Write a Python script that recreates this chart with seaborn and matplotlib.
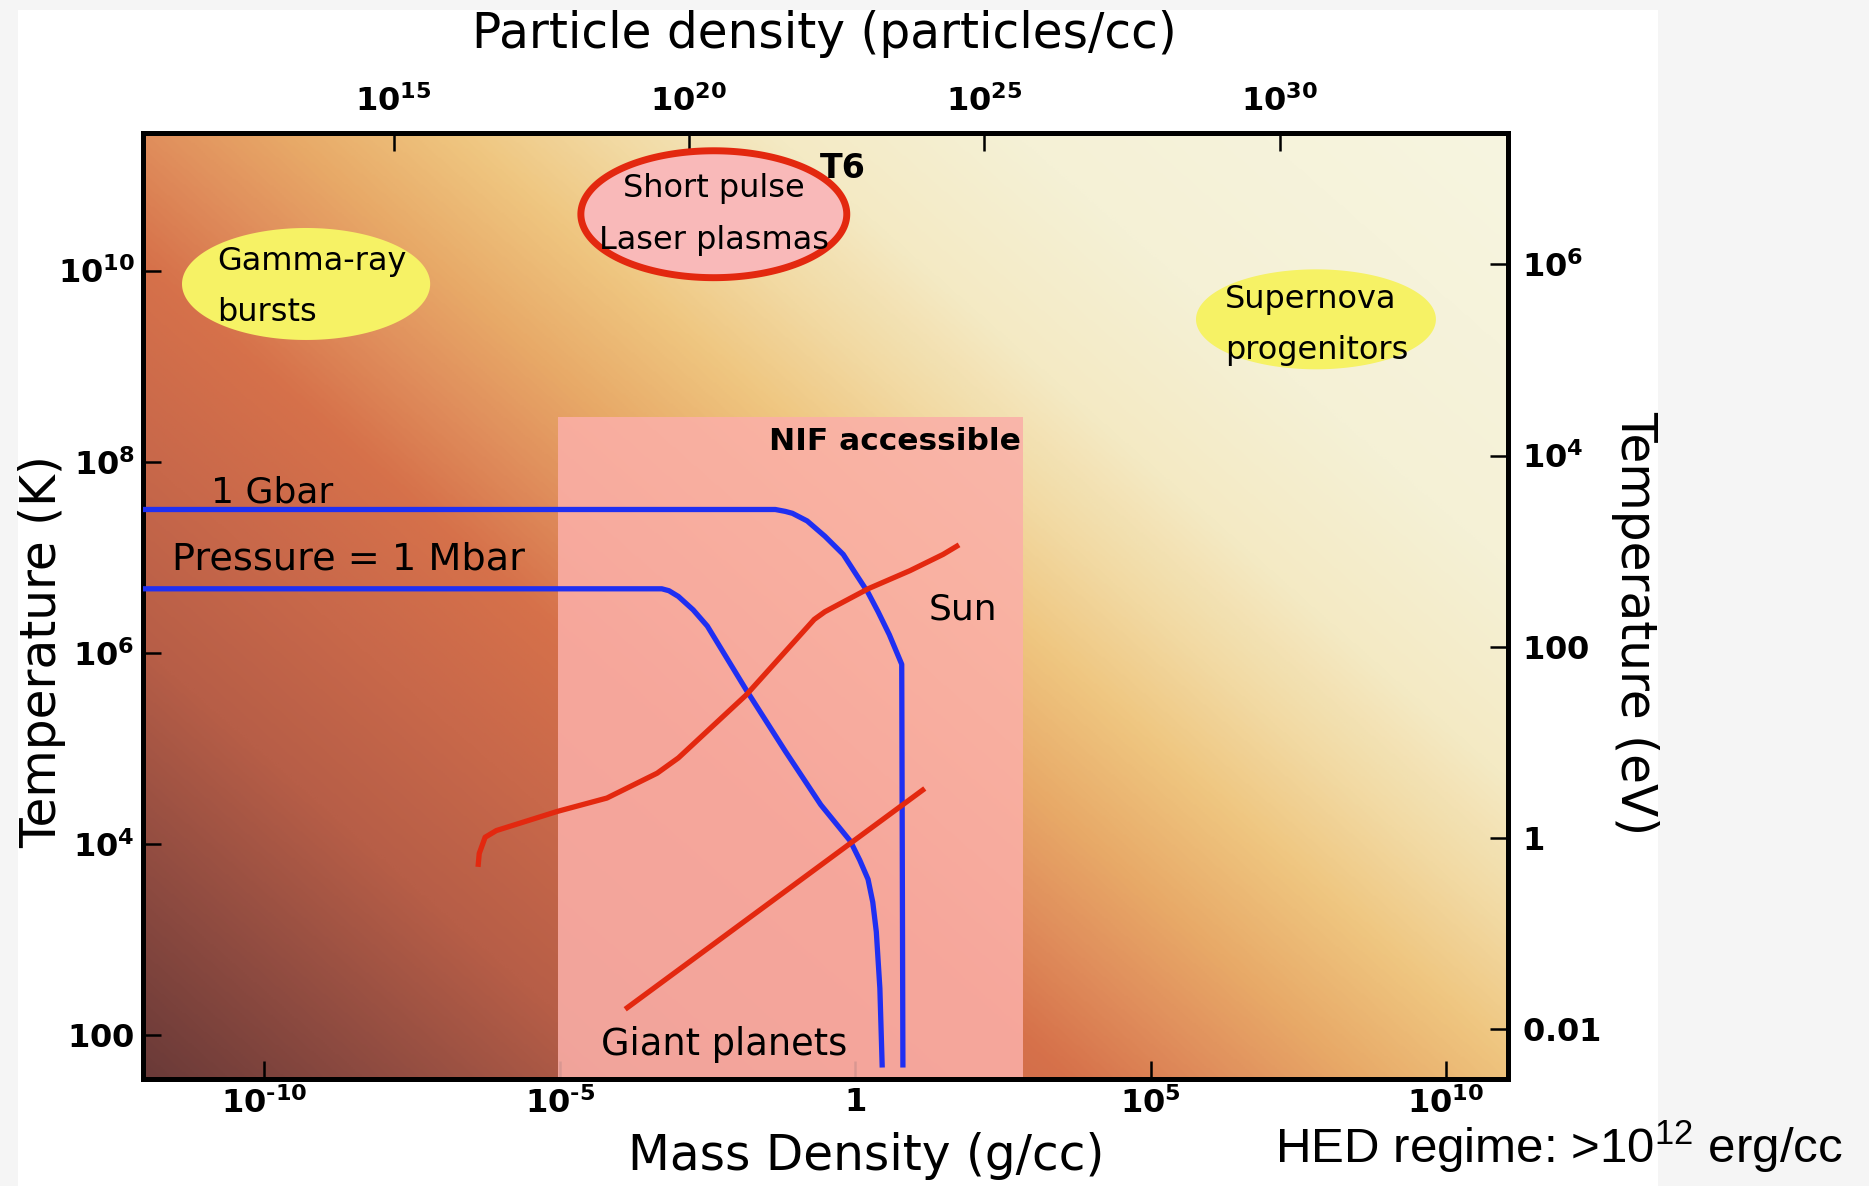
import numpy as np
import matplotlib
matplotlib.use("Agg")
import matplotlib.pyplot as plt
import seaborn as sns
from matplotlib.colors import LinearSegmentedColormap
from matplotlib.patches import Rectangle
from matplotlib.ticker import NullLocator

# ---------------- data (log10 mass density [g/cc], log10 temperature [K]) ----------------
gbar_logrho = [-12.5, -1.35, -1.18, -1.06, -0.81, -0.51, -0.20, 0.03, 0.22, 0.39, 0.58,
               0.79, 0.81]
gbar_logT = [7.50, 7.50, 7.48, 7.46, 7.38, 7.22, 7.03, 6.81, 6.63, 6.43, 6.19, 5.88, 1.66]

mbar_logrho = [-12.5, -3.27, -3.15, -2.99, -2.74, -2.50, -1.84, -1.18, -0.58, -0.08, 0.08,
               0.22, 0.30, 0.36, 0.42, 0.46]
mbar_logT = [6.67, 6.67, 6.65, 6.59, 6.45, 6.28, 5.61, 4.97, 4.41, 4.03, 3.83, 3.63, 3.39,
             3.08, 2.49, 1.66]

sun_logrho = [-6.38, -6.36, -6.26, -6.07, -5.04, -4.20, -3.35, -2.99, -1.84, -0.69, -0.51,
              0.22, 0.93, 1.49, 1.76]
sun_logT = [3.76, 3.90, 4.07, 4.14, 4.34, 4.48, 4.74, 4.90, 5.56, 6.35, 6.43, 6.67, 6.86,
            7.03, 7.13]

planets_logrho = [-3.89, 1.18]
planets_logT = [2.27, 4.58]

nif_logrho = [-5.03, 2.84]
nif_top_logT = 8.47

# named regions: centre (log rho, log T) and half-extent in decades
region_names = ["Gamma-ray\nbursts", "Short pulse\nLaser plasmas", "Supernova\nprogenitors"]
region_center_logrho = [-9.29, -2.39, 7.80]
region_center_logT = [9.86, 10.59, 9.49]
region_half_logrho = [2.10, 2.25, 2.03]
region_half_logT = [0.586, 0.664, 0.523]

# axis ranges (decades)
xlim_log = (-12.05, 11.05)
ylim_log = (1.54, 11.44)

HY = "\u2010"  # short hyphen for negative exponents
x_ticks = [1e-10, 1e-5, 1, 1e5, 1e10]
x_ticklabels = [r"$\mathbf{10^{" + HY + "10}}$", r"$\mathbf{10^{" + HY + "5}}$",
                r"$\mathbf{1}$", r"$\mathbf{10^{5}}$", r"$\mathbf{10^{10}}$"]
y_ticks = [1e2, 1e4, 1e6, 1e8, 1e10]
y_ticklabels = [r"$\mathbf{100}$", r"$\mathbf{10^{4}}$", r"$\mathbf{10^{6}}$",
                r"$\mathbf{10^{8}}$", r"$\mathbf{10^{10}}$"]
n_ticks = [1e15, 1e20, 1e25, 1e30]
n_ticklabels = [r"$\mathbf{10^{15}}$", r"$\mathbf{10^{20}}$", r"$\mathbf{10^{25}}$",
                r"$\mathbf{10^{30}}$"]
ev_ticks = [1e-2, 1, 1e2, 1e4, 1e6]
ev_ticklabels = [r"$\mathbf{0.01}$", r"$\mathbf{1}$", r"$\mathbf{100}$",
                 r"$\mathbf{10^{4}}$", r"$\mathbf{10^{6}}$"]

K_PER_EV = 11604.5
PARTICLES_PER_GRAM = 10 ** 22.81

# ---------------- style ----------------
sns.set_theme(style="white")
plt.rcParams["font.family"] = ["DejaVu Sans"]
plt.rcParams["text.color"] = "black"
plt.rcParams["axes.labelcolor"] = "black"
plt.rcParams["mathtext.fontset"] = "dejavusans"
plt.rcParams["mathtext.rm"] = "Liberation Sans"

BLUE = "#1f2ff2"
RED = "#e3280f"
YELLOW = "#f6f265"
PINK = "#f9b9b9"

W_PX, H_PX = 1869, 1186
fig = plt.figure(figsize=(W_PX / 100, H_PX / 100), dpi=100)
fig.patch.set_facecolor("#f5f5f5")
fig.patches.append(Rectangle((18 / W_PX, 0), (1658 - 18) / W_PX, 1 - 10 / H_PX,
                             transform=fig.transFigure, facecolor="white",
                             edgecolor="none", zorder=-10))

rect = [143 / W_PX, 1 - 1079 / H_PX, 1365 / W_PX, 946 / H_PX]

# diagonal energy-density shading behind the plot
bg = fig.add_axes(rect, zorder=0)
bg.set_axis_off()
stops = [(0.00, "#6a3a38"), (0.09, "#8c4a40"), (0.20, "#b75e47"), (0.29, "#c8684a"),
         (0.38, "#d6714a"), (0.44, "#e08e5c"), (0.50, "#e8aa68"), (0.57, "#efc680"),
         (0.63, "#f2d9a2"), (0.70, "#f4eac4"), (0.80, "#f5f1d6"), (1.00, "#f7f5e0")]
cmap = LinearSegmentedColormap.from_list("hed", stops)
aw, ah = 1365, 946
gx, gy = np.meshgrid(np.linspace(0, aw, 700), np.linspace(0, ah, 500))
shade = (0.66 * gx + 0.75 * gy) / (0.66 * aw + 0.75 * ah)
bg.imshow(shade, cmap=cmap, vmin=0, vmax=1, origin="lower", aspect="auto",
          extent=(0, 1, 0, 1), interpolation="bilinear")
bg.set_xlim(0, 1)
bg.set_ylim(0, 1)

ax = fig.add_axes(rect, zorder=1)
ax.set_facecolor("none")
ax.set_xscale("log")
ax.set_yscale("log")
ax.set_xlim(10 ** xlim_log[0], 10 ** xlim_log[1])
ax.set_ylim(10 ** ylim_log[0], 10 ** ylim_log[1])

# NIF accessible block
ax.fill_between([10 ** nif_logrho[0], 10 ** nif_logrho[1]], 10 ** 0, 10 ** nif_top_logT,
                color=(251 / 255, 175 / 255, 168 / 255), alpha=0.87, lw=0, zorder=1)
ax.text(10 ** 0.68, 10 ** 8.21, "NIF accessible", fontsize=22.5, fontweight="bold",
        ha="center", va="center", zorder=5)

# named regions as ellipses in log-log space
t = np.linspace(0, 2 * np.pi, 240)
for i, name in enumerate(region_names):
    ex = 10 ** (region_center_logrho[i] + region_half_logrho[i] * np.cos(t))
    ey = 10 ** (region_center_logT[i] + region_half_logT[i] * np.sin(t))
    if i == 1:
        ax.fill(ex, ey, facecolor=PINK, edgecolor=RED, linewidth=5, zorder=2)
    else:
        ax.fill(ex, ey, facecolor=YELLOW, edgecolor="none", zorder=2)

ax.text(10 ** -10.80, 10 ** 9.83, region_names[0], fontsize=23, ha="left", va="center",
        linespacing=1.85, zorder=5)
ax.text(10 ** -2.39, 10 ** 10.585, region_names[1], fontsize=23, ha="center", va="center",
        linespacing=1.85, zorder=5)
ax.text(10 ** 6.26, 10 ** 9.43, region_names[2], fontsize=23, ha="left", va="center",
        linespacing=1.85, zorder=5)
ax.text(10 ** -0.20, 10 ** 11.07, "T6", fontsize=24, fontweight="bold",
        ha="center", va="center", zorder=5)

# isobars and astrophysical tracks
for xs, ys, col in [(gbar_logrho, gbar_logT, BLUE), (mbar_logrho, mbar_logT, BLUE),
                    (sun_logrho, sun_logT, RED), (planets_logrho, planets_logT, RED)]:
    sns.lineplot(x=10 ** np.array(xs), y=10 ** np.array(ys), sort=False, estimator=None,
                 color=col, linewidth=3.8, ax=ax, zorder=3, solid_capstyle="butt",
                 solid_joinstyle="round")

ax.text(10 ** -9.87, 10 ** 7.68, "1 Gbar", fontsize=26, ha="center", va="center", zorder=5)
ax.text(10 ** -8.57, 10 ** 6.98, "Pressure = 1 Mbar", fontsize=27.5, ha="center",
        va="center", zorder=5)
ax.text(10 ** 1.83, 10 ** 6.45, "Sun", fontsize=26, ha="center", va="center", zorder=5)
ax.text(10 ** -2.22, 10 ** 1.90, "Giant planets", fontsize=26.5, ha="center", va="center",
        zorder=5)

# ---------------- axes, ticks, labels ----------------
tick_kw = dict(direction="in", length=13, width=1.8, color="black", labelsize=23,
               labelcolor="black")
ax.set_xticks(x_ticks, labels=x_ticklabels)
ax.set_yticks(y_ticks, labels=y_ticklabels)
ax.xaxis.set_minor_locator(NullLocator())
ax.yaxis.set_minor_locator(NullLocator())
ax.tick_params(axis="x", which="major", bottom=True, top=False, pad=6, **tick_kw)
ax.tick_params(axis="y", which="major", left=True, right=False, pad=6, **tick_kw)
ax.set_xlim(10 ** xlim_log[0], 10 ** xlim_log[1])
ax.set_ylim(10 ** ylim_log[0], 10 ** ylim_log[1])

secx = ax.secondary_xaxis("top", functions=(lambda r: r * PARTICLES_PER_GRAM,
                                            lambda n: n / PARTICLES_PER_GRAM))
secx.set_xticks(n_ticks, labels=n_ticklabels)
secx.xaxis.set_minor_locator(NullLocator())
secx.tick_params(axis="x", which="major", pad=11, **tick_kw)

secy = ax.secondary_yaxis("right", functions=(lambda T: T / K_PER_EV,
                                              lambda e: e * K_PER_EV))
secy.set_yticks(ev_ticks, labels=ev_ticklabels)
secy.yaxis.set_minor_locator(NullLocator())
secy.tick_params(axis="y", which="major", pad=10, **tick_kw)

for a in (ax, secx, secy):
    for sp in a.spines.values():
        sp.set_linewidth(3.6)
        sp.set_color("black")

ax.set_xlabel("Mass Density (g/cc)", fontsize=35)
ax.xaxis.set_label_coords(0.530, -0.0814)
ax.xaxis.label.set_va("center")
ax.set_ylabel("Temperature (K)", fontsize=35)
ax.yaxis.set_label_coords(-0.074, 0.452)
ax.yaxis.label.set_va("center")
ax.yaxis.label.set_ha("center")

secx.set_xlabel("Particle density (particles/cc)", fontsize=35)
secx.xaxis.set_label_coords(0.499, 1.105, transform=ax.transAxes)
secx.xaxis.label.set_va("center")

secy.set_ylabel("Temperature (eV)", fontsize=35, rotation=270)
secy.yaxis.set_label_coords(1.093, 0.482, transform=ax.transAxes)
secy.yaxis.label.set_va("center")
secy.yaxis.label.set_ha("center")

fig.text(1275 / W_PX, 1 - 1147 / H_PX, r"HED regime: >10$^{12}$ erg/cc",
         fontfamily="Liberation Sans", fontsize=35.5, math_fontfamily="custom",
         ha="left", va="center")

fig.savefig("out.png", dpi=100, facecolor=fig.get_facecolor())
